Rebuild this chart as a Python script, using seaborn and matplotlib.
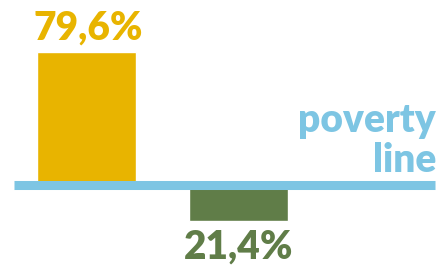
import matplotlib
matplotlib.use("Agg")
import matplotlib.pyplot as plt
import seaborn as sns
import pandas as pd

# data
categories = ["above", "below"]
values = [79.6, -21.4]
labels = ["79,6%", "21,4%"]
colors = ["#E8B400", "#607D48"]
line_color = "#7DC5E3"

sns.set_theme(style="white")
plt.rcParams['font.family'] = ['Lato', 'DejaVu Sans']

df = pd.DataFrame({"cat": categories, "val": values})

fig = plt.figure(figsize=(4.44, 2.68), dpi=100)
ax = fig.add_axes([0, 0, 1, 1])

sns.barplot(data=df, x="cat", y="val", hue="cat", palette=colors,
            order=categories, width=0.65, saturation=1, legend=False, ax=ax)

# poverty line
ax.plot([-0.477, 2.293], [0, 0], color=line_color, linewidth=6.5,
        solid_capstyle='butt', zorder=5)

# value labels
ax.text(0.01, 86.6, labels[0], ha='center', va='baseline', fontsize=28,
        fontweight='heavy', color=colors[0])
ax.text(1.0, -43.2, labels[1], ha='center', va='baseline', fontsize=28,
        fontweight='heavy', color=colors[1])

ax.text(2.299, 31.8, "poverty", ha='right', va='baseline', fontsize=28,
        fontweight='heavy', color=line_color)
ax.text(2.299, 8.0, "line", ha='right', va='baseline', fontsize=28,
        fontweight='heavy', color=line_color)

ax.set_xlim(-0.569, 2.352)
ax.set_ylim(-49.1, 110.4)
ax.axis('off')

fig.savefig("out.png", dpi=100)
